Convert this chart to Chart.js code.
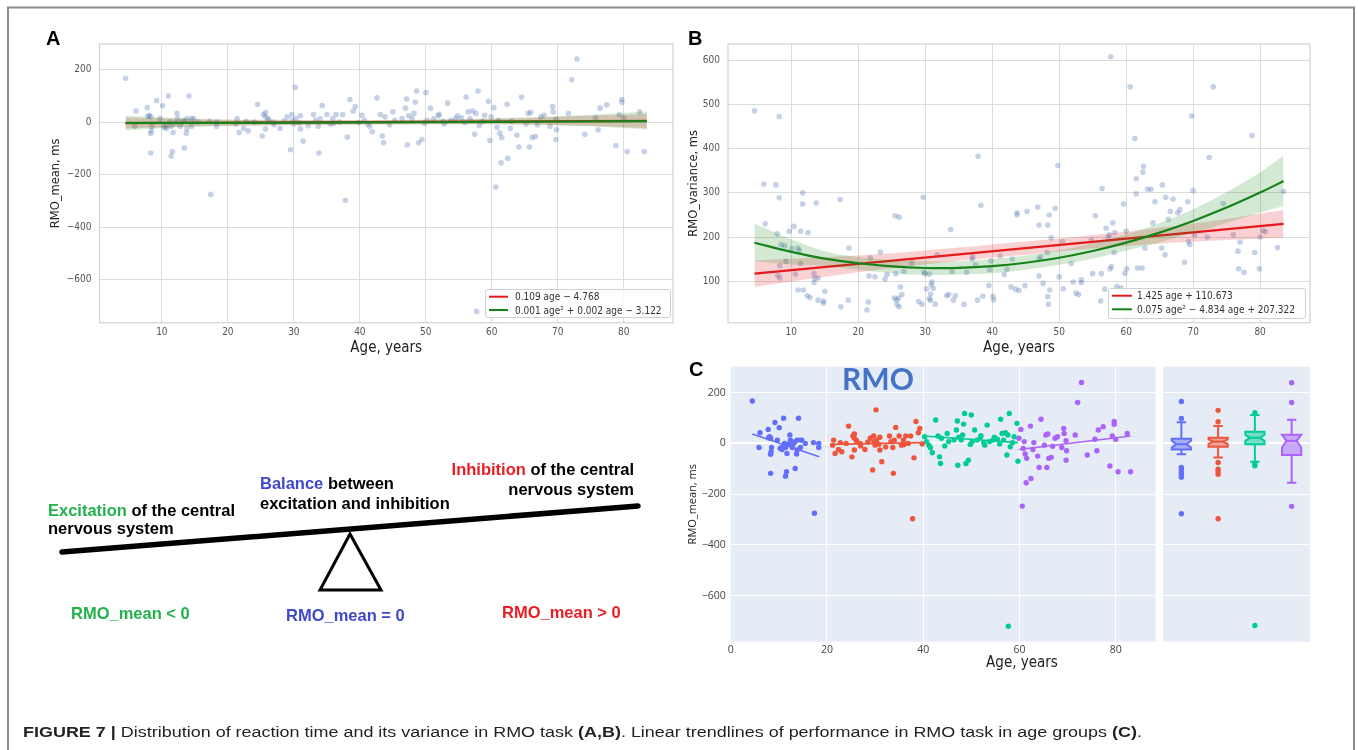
<!DOCTYPE html>
<html>
<head>
<meta charset="utf-8">
<script src="https://cdn.jsdelivr.net/npm/chart.js@4.4.0/dist/chart.umd.min.js"></script>
<style>
  body { margin: 0; background: #fff; width: 1358px; height: 750px; position: relative; overflow: hidden; }
  canvas { position: absolute; }
  #overlay { position: absolute; left: 0; top: 0; pointer-events: none; }
</style>
</head>
<body>
<canvas id="chartA" width="650" height="330" style="left:40px;top:30px"></canvas>
<canvas id="chartB" width="660" height="330" style="left:680px;top:30px"></canvas>
<canvas id="chartC" width="480" height="330" style="left:680px;top:355px"></canvas>
<canvas id="chartBox" width="160" height="330" style="left:1159px;top:355px"></canvas>

<svg id="overlay" width="1358" height="750">
  <path d="M8 760 V7.5 H1354 V760" fill="none" stroke="#8c8c8c" stroke-width="2"/>

  <g font-family="'Liberation Sans', Arial, sans-serif" font-weight="bold" font-size="20" fill="#000">
    <text x="46" y="45">A</text>
    <text x="688" y="45">B</text>
    <text x="689" y="376">C</text>
  </g>

  <text x="842" y="390" font-family="Lato, sans-serif" font-weight="bold" font-size="30" fill="#4472c4">RMO</text>
  <text x="1022" y="667" text-anchor="middle" font-family="'DejaVu Sans Condensed', 'DejaVu Sans', sans-serif" font-size="15" fill="#222">Age, years</text>

  <!-- legend A -->
  <g font-family="'DejaVu Sans Condensed', 'DejaVu Sans', sans-serif" font-size="10" fill="#333">
    <rect x="485.5" y="289.5" width="185" height="28" rx="2.5" fill="#fff" fill-opacity="0.85" stroke="#d0d0d0"/>
    <line x1="489" y1="296.7" x2="508" y2="296.7" stroke="#e41a1c" stroke-width="2"/>
    <text x="515" y="300.3">0.109 age − 4.768</text>
    <line x1="489" y1="310" x2="508" y2="310" stroke="#16821a" stroke-width="2"/>
    <text x="515" y="313.6">0.001 age² + 0.002 age − 3.122</text>
  </g>
  <!-- legend B -->
  <g font-family="'DejaVu Sans Condensed', 'DejaVu Sans', sans-serif" font-size="10" fill="#333">
    <rect x="1108.5" y="288.5" width="197" height="30" rx="2.5" fill="#fff" fill-opacity="0.85" stroke="#d0d0d0"/>
    <line x1="1112" y1="295.7" x2="1132" y2="295.7" stroke="#e41a1c" stroke-width="2"/>
    <text x="1137" y="299.3">1.425 age + 110.673</text>
    <line x1="1112" y1="309.3" x2="1132" y2="309.3" stroke="#16821a" stroke-width="2"/>
    <text x="1137" y="312.9">0.075 age² −  4.834 age + 207.322</text>
  </g>

  <!-- seesaw -->
  <line x1="62" y1="552" x2="638" y2="506" stroke="#000" stroke-width="5.5" stroke-linecap="round"/>
  <polygon points="350,534 320,590 381,590" fill="none" stroke="#000" stroke-width="3" stroke-linejoin="miter"/>
  <g font-family="'Liberation Sans', Arial, sans-serif" font-weight="bold" font-size="16.5" fill="#000">
    <text x="48" y="516"><tspan fill="#22b14c">Excitation</tspan> of the central</text>
    <text x="48" y="534">nervous system</text>
    <text x="260" y="489"><tspan fill="#3f48cc">Balance</tspan>  between</text>
    <text x="260" y="509">excitation and inhibition</text>
    <text x="634" y="475" text-anchor="end"><tspan fill="#ed1c24">Inhibition</tspan> of the central</text>
    <text x="634" y="495" text-anchor="end">nervous system</text>
    <text x="71" y="619" fill="#22b14c">RMO_mean &lt; 0</text>
    <text x="286" y="621" fill="#3f48cc">RMO_mean = 0</text>
    <text x="502" y="618" fill="#ed1c24">RMO_mean &gt; 0</text>
  </g>

  <text x="23" y="737" textLength="1119" lengthAdjust="spacingAndGlyphs" font-family="'Liberation Sans', Arial, sans-serif" font-size="15.5" fill="#231f20"><tspan font-weight="bold">FIGURE 7 |</tspan> Distribution of reaction time and its variance in RMO task <tspan font-weight="bold">(A,B)</tspan>. Linear trendlines of performance in RMO task in age groups <tspan font-weight="bold">(C)</tspan>.</text>
</svg>

<script>
// RMO_mean per participant, [age, ms], split by the age groups of panel C
const meanUnder20 = [[4.5,167],[6.1,42],[5.9,-16],[7.8,55],[8.1,26],[8.3,20],[9.2,82],[10.1,62],[11.0,99],[14.1,99],
  [9.7,13],[8.5,-16],[8.4,-33],[8.3,-43],[10.6,-16],[10.7,-24],[11.4,-16],[11.2,0],[12.3,33],[12.4,13],[11.7,-40],
  [12.8,-16],[13.1,0],[13.4,7],[13.8,13],[14.5,13],[14.8,13],[13.7,-42],[13.4,-99],[11.6,-112],[11.4,-129],[8.3,-118],
  [17.2,3],[18.3,0],[18.3,-16],[15.5,0],[14.5,-16],[13.8,-26],[17.4,-275],[7.9,22],[12.0,-3],[10.3,-20]];
const mean20to40 = [[21.2,-7],[21.4,13],[21.7,-40],[22.4,-24],[23.1,-33],[24.0,0],[24.5,68],[25.2,-53],[25.7,-26],
  [25.4,29],[25.7,20],[26.1,13],[26.2,7],[26.9,0],[27.9,-24],[29.0,20],[29.7,29],[29.8,7],[30.0,-7],[30.3,13],[31.0,-26],
  [31.4,-72],[30.2,132],[29.5,-105],[31.0,24],[33.0,29],[33.3,7],[33.7,-16],[34.0,13],[33.8,-118],[34.3,63],[35.0,29],
  [35.5,-7],[35.9,13],[36.4,29],[36.9,0],[37.4,29],[38.1,-57],[38.5,86],[39.0,42],[39.3,59],[37.8,-297],[25.7,37],
  [28.5,5],[30.8,-3],[32.2,-14],[36.0,-5],[39.8,-2],[22.8,3],[27.0,-10]];
const mean40to60 = [[40.3,26],[40.7,7],[41.2,-7],[41.5,-17],[41.9,-37],[42.6,92],[43.1,29],[43.4,-53],[43.6,-79],
  [43.8,20],[45.0,39],[45.3,7],[46.4,13],[46.9,53],[47.1,88],[47.2,-86],[47.4,24],[47.9,13],[48.2,33],[48.4,76],
  [48.6,118],[48.9,-79],[49.4,-66],[50.0,112],[50.2,7],[50.7,53],[51.2,13],[51.9,24],[52.6,3],[52.8,-7],[53.3,72],
  [53.8,7],[54.5,13],[54.8,24],[55.4,16],[56.1,95],[56.4,39],[56.7,13],[57.1,42],[57.4,-46],[57.6,33],[57.9,118],
  [58.1,-13],[58.6,3],[58.9,26],[59.5,79],[59.7,-70],[57.7,-720],[44.5,-10],[49.8,-4],[52.0,30],[55.9,-2]];
const meanOver60 = [[59.9,20],[60.3,55],[61.0,7],[61.2,-42],[61.5,-59],[62.3,68],[62.8,-24],[61.4,-155],[62.4,-138],
  [63.8,-50],[64.1,-95],[64.5,95],[65.2,-7],[65.5,33],[65.9,37],[65.7,-95],[66.1,-59],[66.6,-55],[66.9,-11],[67.4,20],
  [67.9,26],[68.8,-16],[69.2,59],[69.3,39],[69.7,11],[69.8,-29],[69.7,-66],[71.6,33],[72.1,161],[72.9,240],[74.1,-46],
  [75.7,16],[76.1,-29],[76.4,53],[77.4,66],[78.8,-89],[79.7,86],[79.7,75],[79.3,29],[80.0,16],[80.5,-112],[82.4,39],
  [83.1,-112],[60.6,-247],[63.0,3],[60.8,-20]];

// RMO_variance per participant, [age, ms]
const varUnder20 = [[4.5,486],[8.2,473],[5.9,320],[7.7,318],[8.2,289],[11.7,300],[11.7,275],[13.7,277],[17.3,285],
  [6.1,230],[7.9,207],[9.7,213],[10.4,224],[11.4,213],[12.5,210],[8.5,183],[9.0,180],[10.1,174],[11.0,175],[11.2,170],
  [11.4,140],[9.2,145],[8.3,135],[8.0,113],[8.3,107],[10.6,116],[13.4,117],[13.5,106],[14.0,107],[13.4,97],[11.0,80],
  [11.8,80],[12.4,67],[12.8,63],[14.0,57],[14.8,55],[14.8,50],[15.0,77],[17.4,42],[18.5,57],[18.6,175]];
const var20to40 = [[21.3,35],[21.5,53],[21.6,112],[21.8,153],[22.5,110],[23.3,166],[24.0,105],[24.3,115],[25.5,248],
  [26.1,245],[25.4,62],[25.7,57],[25.8,47],[26.0,62],[26.1,42],[26.3,87],[26.5,70],[25.6,117],[26.8,122],[28.0,142],
  [29.0,54],[29.5,48],[29.7,290],[29.8,120],[30.0,117],[30.2,83],[30.6,116],[30.6,60],[30.8,71],[30.9,92],[31.0,98],
  [31.2,84],[30.8,57],[31.5,48],[31.8,160],[33.2,67],[33.5,70],[33.8,217],[34.0,122],[34.2,57],[34.5,67],[35.8,48],
  [36.2,120],[37.0,150],[37.1,155],[37.5,137],[37.8,57],[37.9,383],[38.3,272],[38.6,66],[39.5,90],[39.6,126],[39.8,146]];
const var40to60 = [[40.1,66],[40.2,58],[41.2,157],[41.8,115],[42.2,127],[42.8,87],[43.0,150],[43.5,82],[43.7,250],
  [43.7,255],[44.0,79],[44.9,90],[45.2,258],[46.8,268],[47.0,227],[47.2,155],[47.0,150],[47.0,112],[47.6,95],[48.2,165],
  [48.3,227],[48.5,250],[48.3,65],[48.4,48],[48.6,80],[48.8,198],[49.4,265],[49.8,362],[50.0,110],[50.5,190],[50.6,83],
  [51.8,140],[52.1,98],[52.5,73],[52.9,70],[53.3,103],[53.3,97],[54.8,193],[55.0,117],[55.4,248],[56.2,55],[56.3,117],
  [56.4,310],[56.8,82],[57.0,220],[57.3,200],[57.5,205],[57.6,128],[57.7,608],[57.8,133],[58.0,232],[58.2,165],
  [58.3,210],[58.6,88],[59.2,85],[59.6,275],[59.8,118]];
const varOver60 = [[60.0,213],[60.1,128],[60.6,540],[61.3,423],[61.5,332],[61.5,298],[61.7,130],[62.4,130],[62.6,360],
  [62.5,347],[62.8,175],[63.2,308],[63.7,308],[64.0,232],[64.3,280],[65.3,175],[65.4,318],[65.8,160],[65.9,290],
  [66.3,240],[66.6,258],[67.0,286],[67.7,255],[68.0,262],[68.7,143],[69.2,280],[69.3,190],[69.5,183],[69.8,474],
  [70.0,305],[70.2,205],[72.1,200],[73.0,540],[72.4,380],[74.5,276],[76.0,205],[76.7,168],[76.8,128],[77.0,188],
  [77.6,120],[78.8,430],[79.2,165],[79.9,128],[80.0,200],[80.4,215],[80.8,212],[82.6,176],[83.5,303]];

const fitLinA = [[4.5,-4.3],[83.5,4.3]];
const fitQuadA = [[4.5,-3.1],[20,-2.7],[40,-1.4],[60,0.6],[83.5,4.0]];
const bandLinA = [[4.5,-24,17],[15,-17,11],[25,-13,9],[35,-10,8],[45,-8,8],[55,-8,11],[65,-9,16],[75,-15,24],[83.5,-23,31]];
const bandQuadA = [[4.5,-31,24],[15,-17,12],[25,-12,7],[35,-10,6],[45,-9,7],[55,-8,11],[65,-9,17],[75,-16,28],[83.5,-28,40]];

const fitLinB = [[4.5,117.1],[83.5,229.7]];
const fitQuadB = [[4.5,187.1],[10,166.5],[15,151.0],[20,140.6],[25,133.4],[30,129.8],[35,130.0],[40,133.9],[45,141.7],
  [50,153.1],[55,168.3],[60,187.3],[65,210.0],[70,236.4],[75,266.6],[80,300.6],[83.5,326.6]];
const bandLinB = [[4.5,87,147],[15,110,154],[25,129,163],[35,146,176],[45,160,190],[55,174,204],[65,185,221],[75,193,241],[83.5,199,261]];
const bandQuadB = [[4.5,145,230],[10,138,195],[15,135,168],[20,126,155],[25,118,148],[30,114,145],[35,115,145],[40,118,150],
  [45,126,158],[50,137,170],[55,151,186],[60,169,206],[65,188,232],[70,210,263],[75,232,302],[80,255,346],[83.5,270,385]];

// panel C group trendlines
const trendUnder20 = [[4.5,37],[18.4,-53]];
const trend20to40 = [[20.7,-4],[40,3]];
const trend40to60 = [[40.1,29],[59.7,3]];
const trendOver60 = [[59.9,-24],[83.1,29]];

// panel C boxes: [whiskerLo, q1, notchLo, median, notchHi, q3, whiskerHi]
const boxUnder20 = [-43,-24,-16,-3,10,18,83];
const box20to40 = [-56,-13,-2,7,16,22,68];
const box40to60 = [-72,-3,10,22,34,46,112];
const boxOver60 = [-155,-46,-16,10,36,34,93];
const outUnder20 = [165,98,-95,-105,-114,-123,-133,-277];
const out20to40 = [130,85,-75,-102,-112,-122,-297];
const out40to60 = [121,-79,-88,-717];
const outOver60 = [239,161,-248];

// ticks
const ticksAx = [10,20,30,40,50,60,70,80];
const ticksAy = [-600,-400,-200,0,200];
const ticksBx = [10,20,30,40,50,60,70,80];
const ticksBy = [100,200,300,400,500,600];
const ticksCx = [0,20,40,60,80];
const ticksCy = [-600,-400,-200,0,200];

const groupColors = ['#636efa', '#ef553b', '#00cc96', '#ab63fa'];
const groupFills = ['rgba(99,110,250,0.5)', 'rgba(239,85,59,0.5)', 'rgba(0,204,150,0.5)', 'rgba(171,99,250,0.5)'];

const condensed = "'DejaVu Sans Condensed', 'DejaVu Sans', sans-serif";
const toXY = arr => arr.map(([x, y]) => ({x, y}));
const minus = v => String(v).replace('-', '\u2212');
const setTicks = list => scale => { scale.ticks = list.map(v => ({value: v})); };

const framePlugin = {
    id: 'frame',
    beforeDatasetsDraw(chart) {
        const {ctx, chartArea: a} = chart;
        ctx.save();
        ctx.strokeStyle = '#d2d2d2';
        ctx.lineWidth = 1.2;
        ctx.strokeRect(a.left, a.top, a.width, a.height);
        ctx.restore();
    }
};

const plotBg = {
    id: 'plotBg',
    beforeDraw(chart) {
        const {ctx, chartArea: a} = chart;
        ctx.save();
        ctx.fillStyle = '#e5ecf6';
        ctx.fillRect(a.left, a.top, a.width, a.height);
        ctx.restore();
    }
};

function bandSets(band, color, order, tension) {
    return [
        { type: 'line', data: band.map(([x, lo]) => ({x, y: lo})), showLine: true, borderWidth: 0,
          pointRadius: 0, fill: false, tension, order },
        { type: 'line', data: band.map(([x, , hi]) => ({x, y: hi})), showLine: true, borderWidth: 0,
          pointRadius: 0, fill: '-1', backgroundColor: color, tension, order }
    ];
}

function regPanel(id, cfg) {
    return new Chart(document.getElementById(id), {
        type: 'scatter',
        data: {
            datasets: [
                { data: toXY(cfg.points), backgroundColor: 'rgba(76,114,176,0.32)', pointRadius: 2.8, borderWidth: 0, order: 10 },
                ...bandSets(cfg.linBand, 'rgba(228,26,28,0.2)', 8, 0.35),
                { type: 'line', data: toXY(cfg.linFit), showLine: true, borderColor: '#e41a1c', borderWidth: 2.2,
                  pointRadius: 0, fill: false, order: 7 },
                ...bandSets(cfg.quadBand, 'rgba(20,140,20,0.19)', 6, 0.35),
                { type: 'line', data: toXY(cfg.quadFit), showLine: true, borderColor: '#16821a', borderWidth: 2.2,
                  pointRadius: 0, fill: false, tension: 0.4, order: 5 }
            ]
        },
        options: {
            responsive: false, animation: false, events: [],
            layout: { padding: cfg.pad },
            plugins: { legend: { display: false }, tooltip: { enabled: false } },
            scales: {
                x: {
                    type: 'linear', min: cfg.xRange[0], max: cfg.xRange[1],
                    afterBuildTicks: setTicks(cfg.xTicks),
                    afterFit: s => { s.height = cfg.xHeight; },
                    grid: { color: '#dcdcdc', drawTicks: false },
                    border: { display: false },
                    ticks: { padding: 4, color: '#555', autoSkip: false, maxRotation: 0,
                             font: { family: condensed, size: 10 }, callback: v => minus(v) },
                    title: { display: true, text: 'Age, years', color: '#222',
                             font: { family: condensed, size: 15 }, padding: { top: 0, bottom: 3 } }
                },
                y: {
                    type: 'linear', min: cfg.yRange[0], max: cfg.yRange[1],
                    afterBuildTicks: setTicks(cfg.yTicks),
                    afterFit: s => { s.width = cfg.yWidth; },
                    grid: { color: '#dcdcdc', drawTicks: false },
                    border: { display: false },
                    ticks: { padding: 8, color: '#555', autoSkip: false,
                             font: { family: condensed, size: 10 }, callback: v => minus(v) },
                    title: { display: true, text: cfg.yTitle, color: '#222',
                             font: { family: "'DejaVu Sans', sans-serif", size: 11.5 }, padding: { top: cfg.yTitlePad, bottom: 0 } }
                }
            }
        },
        plugins: [framePlugin]
    });
}

regPanel('chartA', {
    points: [...meanUnder20, ...mean20to40, ...mean40to60, ...meanOver60],
    linFit: fitLinA, quadFit: fitQuadA, linBand: bandLinA, quadBand: bandQuadA,
    xRange: [0.55, 87.45], yRange: [-763, 297], xTicks: ticksAx, yTicks: ticksAy,
    pad: { left: 0, top: 10.7, right: 17, bottom: 0 }, xHeight: 37.3, yWidth: 59.5,
    yTitle: 'RMO_mean, ms', yTitlePad: 9
});

regPanel('chartB', {
    points: [...varUnder20, ...var20to40, ...var40to60, ...varOver60],
    linFit: fitLinB, quadFit: fitQuadB, linBand: bandLinB, quadBand: bandQuadB,
    xRange: [0.55, 87.45], yRange: [6, 637], xTicks: ticksBx, yTicks: ticksBy,
    pad: { left: 0, top: 10.7, right: 30, bottom: 0 }, xHeight: 37.3, yWidth: 48,
    yTitle: 'RMO_variance, ms', yTitlePad: 7
});

// --- Panel C: scatter with group trendlines ---
const groupPoints = [meanUnder20, mean20to40, mean40to60, meanOver60];
const groupTrends = [trendUnder20, trend20to40, trend40to60, trendOver60];
const plotlyTick = { family: "'Open Sans', sans-serif", size: 10.5 };

new Chart(document.getElementById('chartC'), {
    type: 'scatter',
    data: {
        datasets: [
            ...groupTrends.map((t, i) => ({ type: 'line', data: toXY(t), showLine: true, borderColor: groupColors[i],
                borderWidth: 1.6, pointRadius: 0, fill: false, order: 1 })),
            ...groupPoints.map((p, i) => ({ data: toXY(p), backgroundColor: groupColors[i], pointRadius: 2.7,
                borderWidth: 0, order: 2 }))
        ]
    },
    options: {
        responsive: false, animation: false, events: [],
        layout: { padding: { left: 0, top: 11.7, right: 4.4, bottom: 0 } },
        plugins: { legend: { display: false }, tooltip: { enabled: false } },
        scales: {
            x: {
                type: 'linear', min: -0.2, max: 88.3,
                afterBuildTicks: setTicks(ticksCx),
                afterFit: s => { s.height = 43.3; },
                grid: { color: '#ffffff', drawTicks: false },
                border: { display: false },
                ticks: { padding: 2, color: '#444', autoSkip: false, maxRotation: 0, font: plotlyTick }
            },
            y: {
                type: 'linear', min: -781, max: 302,
                afterBuildTicks: setTicks(ticksCy),
                afterFit: s => { s.width = 49.7; },
                grid: { color: '#ffffff', drawTicks: false, lineWidth: c => (c.tick && c.tick.value === 0 ? 2 : 1) },
                border: { display: false },
                ticks: { padding: 4, color: '#444', autoSkip: false, font: plotlyTick, callback: v => minus(v) },
                title: { display: true, text: 'RMO_mean, ms', color: '#222',
                         font: { family: "'Open Sans', sans-serif", size: 11 }, padding: { top: 6, bottom: 0 } }
            }
        }
    },
    plugins: [plotBg]
});

// --- Panel C: notched boxes per age group ---
const boxStats = [boxUnder20, box20to40, box40to60, boxOver60];
const boxOutliers = [outUnder20, out20to40, out40to60, outOver60];

const notchedBoxes = {
    id: 'notchedBoxes',
    beforeDatasetsDraw(chart) {
        const {ctx, scales: {x, y}} = chart;
        const py = v => y.getPixelForValue(v);
        const hw = 9.6, nw = 4.6, cap = 4.7;
        boxStats.forEach((s, i) => {
            const [wLo, q1, nLo, med, nHi, q3, wHi] = s;
            const cx = x.getPixelForValue(i);
            const hi = Math.min(nHi, q3), lo = Math.max(nLo, q1);
            ctx.save();
            ctx.strokeStyle = groupColors[i];
            ctx.fillStyle = groupFills[i];
            ctx.lineWidth = 2;
            ctx.beginPath();
            ctx.moveTo(cx, py(q3)); ctx.lineTo(cx, py(wHi));
            ctx.moveTo(cx - cap, py(wHi)); ctx.lineTo(cx + cap, py(wHi));
            ctx.moveTo(cx, py(q1)); ctx.lineTo(cx, py(wLo));
            ctx.moveTo(cx - cap, py(wLo)); ctx.lineTo(cx + cap, py(wLo));
            ctx.stroke();
            ctx.beginPath();
            ctx.moveTo(cx - hw, py(q3)); ctx.lineTo(cx + hw, py(q3));
            ctx.lineTo(cx + hw, py(hi)); ctx.lineTo(cx + hw - nw, py(med)); ctx.lineTo(cx + hw, py(lo));
            ctx.lineTo(cx + hw, py(q1)); ctx.lineTo(cx - hw, py(q1));
            ctx.lineTo(cx - hw, py(lo)); ctx.lineTo(cx - hw + nw, py(med)); ctx.lineTo(cx - hw, py(hi));
            ctx.closePath();
            ctx.fill();
            ctx.stroke();
            ctx.beginPath();
            ctx.moveTo(cx - hw + nw, py(med)); ctx.lineTo(cx + hw - nw, py(med));
            ctx.stroke();
            ctx.restore();
        });
    }
};

new Chart(document.getElementById('chartBox'), {
    type: 'scatter',
    data: {
        datasets: boxOutliers.map((list, i) => ({
            data: list.map(v => ({x: i, y: v})), backgroundColor: groupColors[i], pointRadius: 2.7, borderWidth: 0
        }))
    },
    options: {
        responsive: false, animation: false, events: [],
        layout: { padding: { left: 0, top: 11.7, right: 9, bottom: 43.3 } },
        plugins: { legend: { display: false }, tooltip: { enabled: false } },
        scales: {
            x: { type: 'linear', min: -0.5, max: 3.5, display: false },
            y: {
                type: 'linear', min: -781, max: 302,
                afterBuildTicks: setTicks(ticksCy),
                afterFit: s => { s.width = 0; },
                grid: { color: '#ffffff', drawTicks: false, lineWidth: c => (c.tick && c.tick.value === 0 ? 2 : 1) },
                border: { display: false },
                ticks: { display: false }
            }
        }
    },
    plugins: [plotBg, notchedBoxes]
});
</script>
</body>
</html>
